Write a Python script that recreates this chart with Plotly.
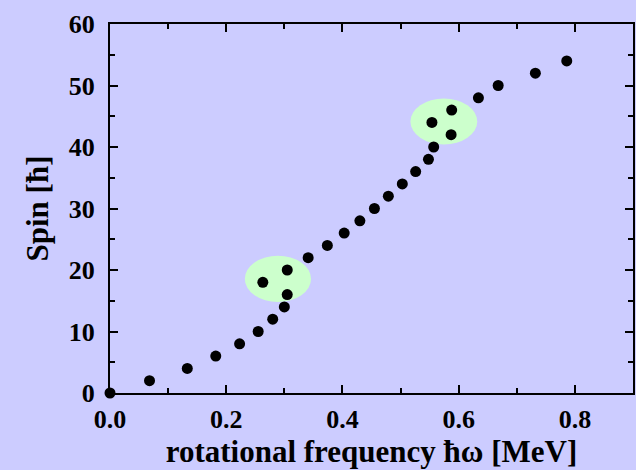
import plotly.graph_objects as go

# data: rotational frequency (MeV) vs spin (hbar)
freq = [0.0, 0.068, 0.133, 0.182, 0.223, 0.255, 0.280, 0.300, 0.305, 0.263, 0.305,
        0.341, 0.374, 0.403, 0.430, 0.455, 0.479, 0.503, 0.526, 0.548, 0.557,
        0.587, 0.554, 0.588, 0.634, 0.668, 0.732, 0.786]
spin = [0, 2, 4, 6, 8, 10, 12, 14, 16, 18, 20,
        22, 24, 26, 28, 30, 32, 34, 36, 38, 40,
        42, 44, 46, 48, 50, 52, 54]

# highlighted regions (ellipses): x0, x1, y0, y1
ell_x0 = [0.232, 0.517]
ell_x1 = [0.346, 0.632]
ell_y0 = [14.8, 40.4]
ell_y1 = [22.3, 47.9]

x_ticks = [0.0, 0.2, 0.4, 0.6, 0.8]
x_ticktext = ["0.0", "0.2", "0.4", "0.6", "0.8"]
y_ticks = [0, 10, 20, 30, 40, 50, 60]

BG = "#ccccff"
GREEN = "#ccffcc"
FONT = "Liberation Serif"

fig = go.Figure()
fig.add_trace(go.Scatter(x=freq, y=spin, mode="markers",
                         marker=dict(color="black", size=11),
                         cliponaxis=False, showlegend=False))

for a, b, c, d in zip(ell_x0, ell_x1, ell_y0, ell_y1):
    fig.add_shape(type="circle", xref="x", yref="y", x0=a, x1=b, y0=c, y1=d,
                  fillcolor=GREEN, line=dict(width=0), layer="below")

axis_common = dict(
    showgrid=False, zeroline=False, showline=True, linecolor="black", linewidth=2,
    mirror="ticks", ticks="inside", ticklen=8, tickwidth=2, tickcolor="black",
    tickfont=dict(family=FONT, size=26, color="black", weight="bold"),
)

fig.update_xaxes(range=[0, 0.9], tickvals=x_ticks, ticktext=x_ticktext,
                 minor=dict(dtick=0.1, ticks="inside", ticklen=5, tickwidth=2, tickcolor="black"),
                 title=dict(text="<b>rotational frequency ħω [MeV]</b>",
                            font=dict(family=FONT, size=31, color="black"), standoff=6),
                 ticklabelstandoff=2,
                 **axis_common)
fig.update_yaxes(range=[0, 60], tickvals=y_ticks,
                 minor=dict(dtick=5, ticks="inside", ticklen=5, tickwidth=2, tickcolor="black"),
                 title=dict(text="<b>Spin [ħ]</b>",
                            font=dict(family=FONT, size=31, color="black"), standoff=11),
                 ticklabelstandoff=8,
                 **axis_common)

fig.update_layout(width=636, height=470, paper_bgcolor=BG, plot_bgcolor=BG,
                  margin=dict(l=110, r=1, t=24, b=77))

fig.write_html("out.html")
